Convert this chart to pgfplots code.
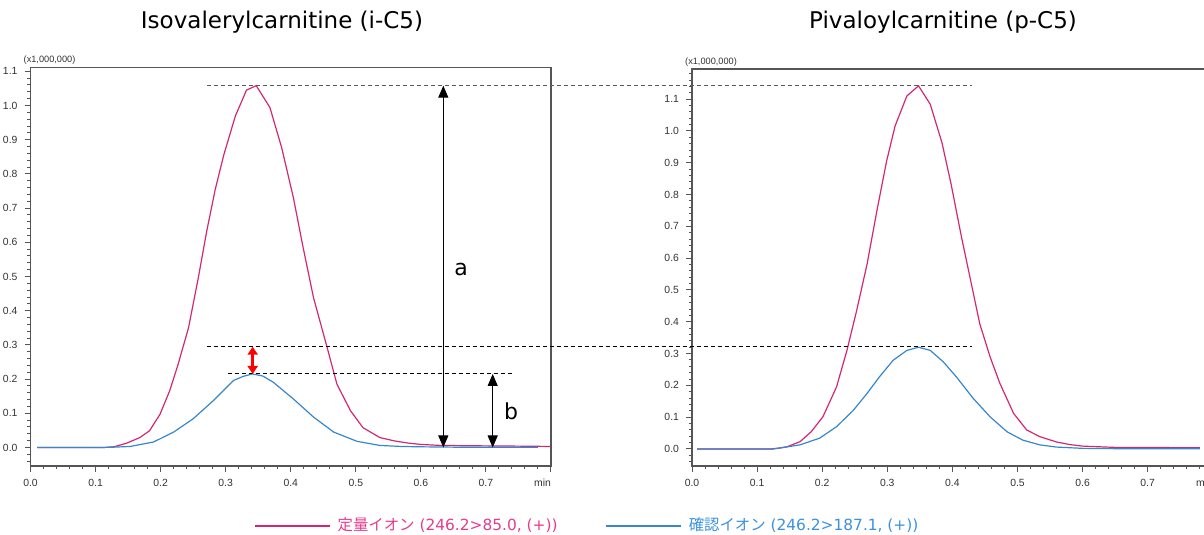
\documentclass[border=0pt]{standalone}
\usepackage{pgfplots}
\pgfplotsset{compat=1.18}
\usepackage{pgfplotstable}
\usetikzlibrary{arrows.meta}
\usepackage{fontspec}
\setmainfont{DejaVu Sans}
\newfontfamily\arial{Liberation Sans}
\newfontfamily\jp{Noto Sans CJK JP}

\definecolor{pinkC}{RGB}{210,40,115}
\definecolor{blueC}{RGB}{55,135,205}
\definecolor{pinkT}{RGB}{228,60,140}
\definecolor{blueT}{RGB}{60,145,222}
\definecolor{axgray}{RGB}{85,85,85}

\pgfplotstableread{
x y
0.010 0
0.100 0
0.112 0.000
0.128 0.002
0.147 0.012
0.168 0.029
0.183 0.049
0.199 0.097
0.214 0.166
0.227 0.244
0.243 0.351
0.258 0.497
0.271 0.634
0.284 0.755
0.297 0.855
0.315 0.970
0.332 1.045
0.347 1.058
0.368 0.994
0.386 0.877
0.404 0.731
0.419 0.585
0.435 0.438
0.456 0.292
0.471 0.185
0.492 0.107
0.511 0.058
0.537 0.029
0.560 0.019
0.580 0.013
0.600 0.009
0.630 0.006
0.680 0.005
0.750 0.004
0.800 0.003
}\leftpink

\pgfplotstableread{
x y
0.010 0
0.110 0
0.128 0.001
0.153 0.003
0.189 0.016
0.220 0.045
0.250 0.084
0.281 0.137
0.312 0.196
0.327 0.208
0.341 0.215
0.357 0.209
0.373 0.191
0.404 0.142
0.435 0.089
0.466 0.045
0.502 0.018
0.537 0.006
0.570 0.003
0.600 0.002
0.650 0.001
0.780 0.001
}\leftblue

\pgfplotstableread{
x y
0.008 0
0.120 0
0.125 0.000
0.146 0.007
0.166 0.023
0.183 0.054
0.201 0.101
0.222 0.195
0.238 0.310
0.253 0.436
0.269 0.582
0.284 0.749
0.299 0.906
0.312 1.016
0.330 1.110
0.348 1.142
0.366 1.084
0.384 0.963
0.398 0.833
0.414 0.666
0.427 0.540
0.442 0.394
0.458 0.289
0.473 0.206
0.494 0.112
0.514 0.060
0.534 0.039
0.560 0.022
0.580 0.014
0.600 0.009
0.650 0.005
0.780 0.004
}\rightpink

\pgfplotstableread{
x y
0.008 0
0.120 0
0.135 0.003
0.166 0.013
0.196 0.034
0.222 0.070
0.248 0.122
0.269 0.175
0.288 0.227
0.309 0.279
0.330 0.310
0.348 0.320
0.366 0.310
0.386 0.274
0.406 0.227
0.432 0.159
0.458 0.101
0.484 0.054
0.508 0.028
0.534 0.013
0.560 0.006
0.600 0.002
0.650 0.001
0.780 0.001
}\rightblue

\pgfplotsset{
  chrom/.style={
    scale only axis, anchor=south west,
    clip mode=individual,
    xmin=0, xmax=0.8,
    xtick={0,0.1,0.2,0.3,0.4,0.5,0.6,0.7,0.8},
    xticklabels={0.0,0.1,0.2,0.3,0.4,0.5,0.6,0.7,\makebox[0pt][r]{min}},
    minor x tick num=4,
    ytick={0,0.1,0.2,0.3,0.4,0.5,0.6,0.7,0.8,0.9,1.0,1.1},
    yticklabels={0.0,0.1,0.2,0.3,0.4,0.5,0.6,0.7,0.8,0.9,1.0,1.1},
    tick align=outside,
    xtick pos=lower, ytick pos=left,
    major tick length=3pt, minor tick length=1.7pt,
    axis line style={axgray, line width=0.6pt},
    every tick/.style={axgray, line width=0.5pt},
    tick label style={font=\arial\fontsize{5.2}{6}\selectfont, text=black!80},
    /pgf/number format/assume math mode=true,
    legend image code/.code={\draw[#1] (0pt,0pt) -- (37.5pt,0pt);},
  }
}

\begin{document}
\begin{tikzpicture}
\begin{axis}[chrom,
  at={(15.25pt,34.5pt)}, width=260.25pt, height=199.35pt,
  ymin=-0.0541, ymax=1.1117,
  minor ytick={-0.04,-0.02,0.02,0.04,0.06,0.08,0.12,0.14,0.16,0.18,0.22,0.24,0.26,0.28,0.32,0.34,0.36,0.38,0.42,0.44,0.46,0.48,0.52,0.54,0.56,0.58,0.62,0.64,0.66,0.68,0.72,0.74,0.76,0.78,0.82,0.84,0.86,0.88,0.92,0.94,0.96,0.98,1.02,1.04,1.06,1.08},
  legend columns=2,
  legend style={at={(axis description cs:0.4295,-0.1505)}, anchor=west,
    draw=none, fill=none, inner sep=0pt,
    font=\fontsize{7.7}{9}\selectfont,
    nodes={inner sep=0pt},
    /tikz/every odd column/.append style={column sep=3.5pt},
    /tikz/every even column/.append style={column sep=24pt}},
]
\addplot[pinkC, line width=0.6pt] table[x=x,y=y] {\leftpink};
\addlegendentry{\textcolor{pinkT}{{\jp 定量イオン} (246.2>85.0, (+))}}
\addplot[blueC, line width=0.6pt] table[x=x,y=y] {\leftblue};
\addlegendentry{\textcolor{blueT}{{\jp 確認イオン} (246.2>187.1, (+))}}
\node[anchor=south west, inner sep=0pt, font=\arial\fontsize{4.6}{5}\selectfont, text=black!80, xshift=-3.6pt, yshift=1.2pt] at (axis description cs:0,1) {(x1,000,000)};
\coordinate (topL) at (axis cs:0.2708,1.058);
\coordinate (midL) at (axis cs:0.2708,0.2947);
\draw[black, line width=0.5pt, dash pattern=on 2pt off 1.5pt] (axis cs:0.3031,0.215) -- (axis cs:0.7396,0.215);
\draw[black, line width=0.5pt, {Triangle[width=5pt,length=6pt]}-{Triangle[width=5pt,length=6pt]}] (axis cs:0.6345,1.058) -- (axis cs:0.6345,0);
\draw[black, line width=0.5pt, {Triangle[width=5pt,length=6pt]}-{Triangle[width=5pt,length=6pt]}] (axis cs:0.7104,0.215) -- (axis cs:0.7104,0);
\draw[red, line width=1.4pt, {Triangle[width=5pt,length=4pt]}-{Triangle[width=5pt,length=4pt]}] (axis cs:0.3415,0.2947) -- (axis cs:0.3415,0.215);
\node[font=\fontsize{11}{12}\selectfont] at (axis cs:0.6617,0.52) {a};
\node[font=\fontsize{11}{12}\selectfont] at (axis cs:0.7386,0.107) {b};
\end{axis}

\begin{axis}[chrom,
  at={(346pt,34.5pt)}, width=260.4pt, height=198.5pt,
  ymin=-0.0535, ymax=1.195,
  minor ytick={-0.04,-0.02,0.02,0.04,0.06,0.08,0.12,0.14,0.16,0.18,0.22,0.24,0.26,0.28,0.32,0.34,0.36,0.38,0.42,0.44,0.46,0.48,0.52,0.54,0.56,0.58,0.62,0.64,0.66,0.68,0.72,0.74,0.76,0.78,0.82,0.84,0.86,0.88,0.92,0.94,0.96,0.98,1.02,1.04,1.06,1.08,1.12,1.14,1.16,1.18},
]
\addplot[pinkC, line width=0.6pt] table[x=x,y=y] {\rightpink};
\addplot[blueC, line width=0.6pt] table[x=x,y=y] {\rightblue};
\node[anchor=south west, inner sep=0pt, font=\arial\fontsize{4.6}{5}\selectfont, text=black!80, xshift=-3.6pt, yshift=1.2pt] at (axis description cs:0,1) {(x1,000,000)};
\coordinate (topR) at (axis cs:0.4297,1.142);
\coordinate (midR) at (axis cs:0.4297,0.3217);
\end{axis}

\draw[black!65, line width=0.5pt, dash pattern=on 2pt off 1.5pt] (topL) -- (topL -| topR);
\draw[black, line width=0.5pt, dash pattern=on 2pt off 1.5pt] (midL) -- (midL -| midR);

\node[font=\fontsize{11.5}{13}\selectfont] at (141pt,256.5pt) {Isovalerylcarnitine (i-C5)};
\node[font=\fontsize{11.5}{13}\selectfont] at (471.5pt,256.5pt) {Pivaloylcarnitine (p-C5)};

\pgfresetboundingbox
\useasboundingbox (0pt,0pt) rectangle (602pt,267.5pt);
\end{tikzpicture}
\end{document}
